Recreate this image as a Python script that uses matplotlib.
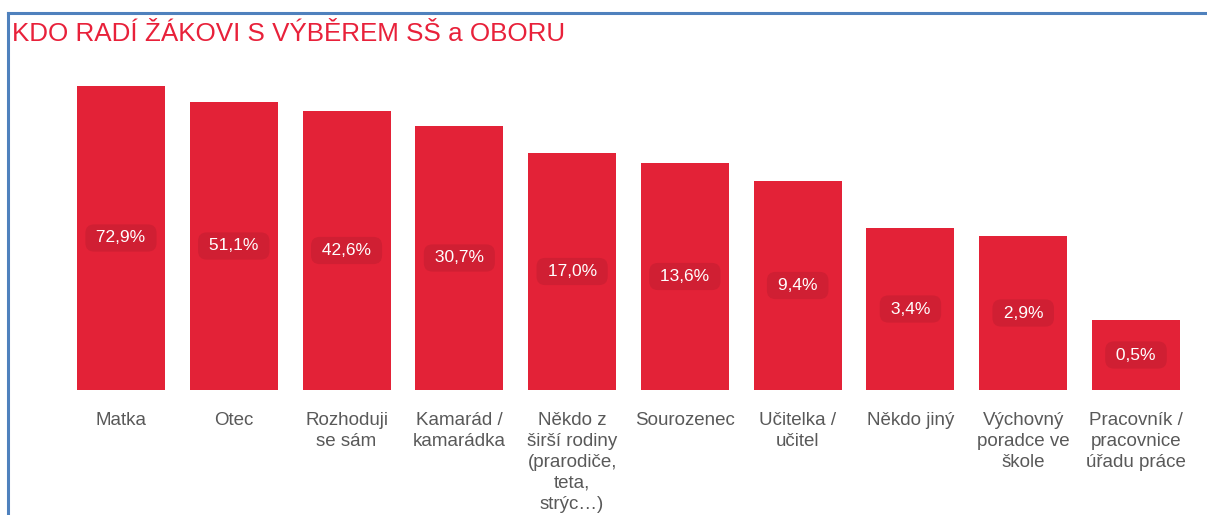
import matplotlib.pyplot as plt
from matplotlib.lines import Line2D

# kategorie a hodnoty
categories = ["Matka", "Otec", "Rozhoduji\nse sám", "Kamarád /\nkamarádka",
              "Někdo z\nširší rodiny\n(prarodiče,\nteta,\nstrýc…)", "Sourozenec",
              "Učitelka /\nučitel", "Někdo jiný", "Výchovný\nporadce ve\nškole",
              "Pracovník /\npracovnice\núřadu práce"]
values = [72.9, 51.1, 42.6, 30.7, 17.0, 13.6, 9.4, 3.4, 2.9, 0.5]
# visual bar heights as drawn in the original (not proportional to values)
bar_heights = [304, 288, 279, 264, 237, 227, 209, 162, 154, 70]

plt.rcParams['font.family'] = ['Liberation Sans', 'DejaVu Sans']

fig = plt.figure(figsize=(12.07, 5.15), dpi=100)
W, H = 1207, 515
ax = fig.add_axes([64.6 / W, (H - 390) / H, (1192.4 - 64.6) / W, 320 / H])

x = range(len(categories))
ax.bar(x, bar_heights, width=0.78, color='#E32237')

for i in x:
    txt = " " + f"{values[i]:.1f}".replace('.', ',') + "% "
    ax.text(i, bar_heights[i] / 2, txt, ha='center', va='center',
            color='white', fontsize=12.5,
            bbox=dict(boxstyle='round,pad=0.35,rounding_size=0.5',
                      fc='#D01F33', ec='none'))

ax.set_xlim(-0.5, len(categories) - 0.5)
ax.set_ylim(0, 320)
ax.set_xticks(list(x))
ax.set_xticklabels(categories, fontsize=13.5, color='#595959', linespacing=1.31, va='top')
ax.tick_params(axis='x', length=0, pad=15.5)
ax.set_yticks([])
for s in ax.spines.values():
    s.set_visible(False)

fig.text(12 / W, (H - 34) / H, "KDO RADÍ ŽÁKOVI S VÝBĚREM SŠ a OBORU",
         fontsize=18.7, color='#E8213A', ha='left', va='center')

# ramecek
fig.add_artist(Line2D([8 / W, 1], [(H - 13) / H, (H - 13) / H], color='#4F81BD', lw=2.2,
                      transform=fig.transFigure))
fig.add_artist(Line2D([8 / W, 8 / W], [0, (H - 13) / H], color='#4F81BD', lw=2.2,
                      transform=fig.transFigure))

fig.savefig("out.png", dpi=100)
